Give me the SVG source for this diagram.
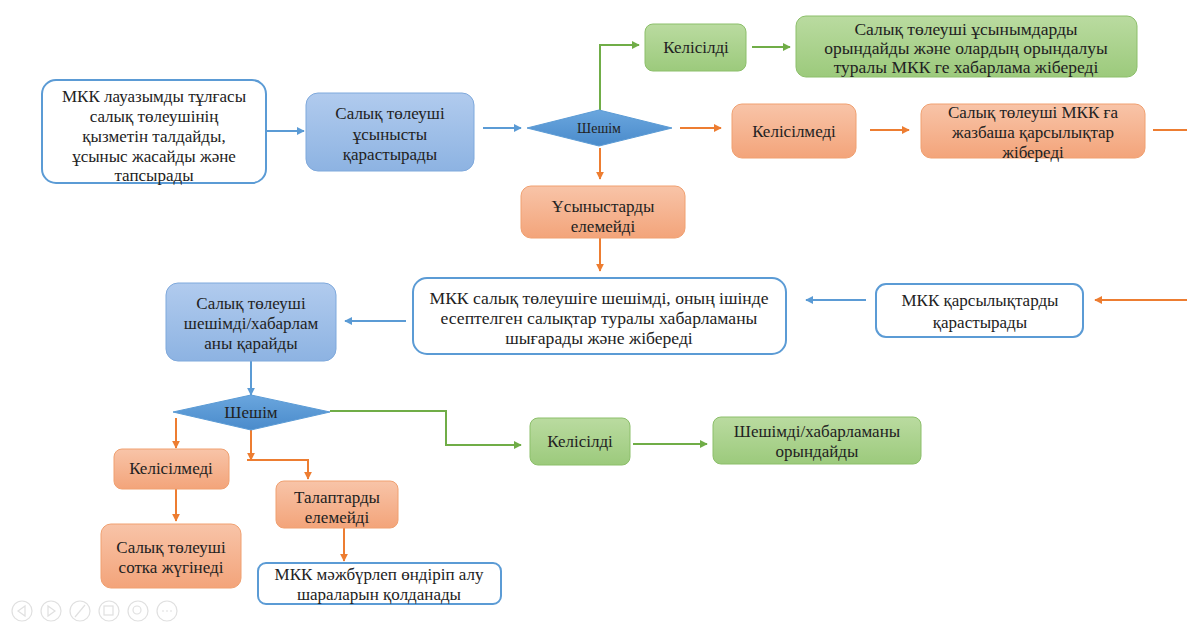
<svg xmlns="http://www.w3.org/2000/svg" width="1187" height="624" viewBox="0 0 1187 624" font-family="Liberation Serif" font-size="17">
<defs>
<linearGradient id="gb" x1="0" y1="0" x2="0" y2="1"><stop offset="0" stop-color="#B1CBEE"/><stop offset="1" stop-color="#8DB3E2"/></linearGradient>
<linearGradient id="go" x1="0" y1="0" x2="0" y2="1"><stop offset="0" stop-color="#F8C4A8"/><stop offset="1" stop-color="#F3A47A"/></linearGradient>
<linearGradient id="gg" x1="0" y1="0" x2="0" y2="1"><stop offset="0" stop-color="#BADBA0"/><stop offset="1" stop-color="#9CCA7C"/></linearGradient>
<linearGradient id="gd" x1="0" y1="0" x2="0" y2="1"><stop offset="0" stop-color="#6AA6DE"/><stop offset="1" stop-color="#4A8BCB"/></linearGradient>
<marker id="ab" viewBox="0 0 10 10" refX="9" refY="5" markerWidth="4" markerHeight="4" orient="auto"><path d="M0,0L10,5L0,10z" fill="#5B9BD5"/></marker>
<marker id="ao" viewBox="0 0 10 10" refX="9" refY="5" markerWidth="4" markerHeight="4" orient="auto"><path d="M0,0L10,5L0,10z" fill="#ED7D31"/></marker>
<marker id="ag" viewBox="0 0 10 10" refX="9" refY="5" markerWidth="4" markerHeight="4" orient="auto"><path d="M0,0L10,5L0,10z" fill="#70AD47"/></marker>
</defs>
<style>
text{fill:#222;text-anchor:middle}
.w{fill:#fff;stroke:#5B9BD5;stroke-width:2}
.b{fill:url(#gb);stroke:#7FA9DC;stroke-width:1}
.o{fill:url(#go);stroke:#F0A070;stroke-width:1}
.g{fill:url(#gg);stroke:#8CBF6A;stroke-width:1}
.d{fill:url(#gd);stroke:#5B9BD5;stroke-width:1}
.cb{stroke:#5B9BD5;stroke-width:2;fill:none;marker-end:url(#ab)}
.co{stroke:#ED7D31;stroke-width:2;fill:none;marker-end:url(#ao)}
.cg{stroke:#70AD47;stroke-width:2;fill:none;marker-end:url(#ag)}
.ico{fill:none;stroke:#E0E0E0;stroke-width:1.2}
</style>
<rect width="1187" height="624" fill="#fff"/>

<g id="connectors">
<line class="cb" x1="266" y1="131" x2="304" y2="131"/>
<line class="cb" x1="483" y1="128" x2="521" y2="128"/>
<path class="cg" d="M600,110 V45 H639"/>
<line class="cg" x1="752" y1="47" x2="790" y2="47"/>
<line class="co" x1="680" y1="128" x2="721" y2="128"/>
<line class="co" x1="870" y1="130" x2="909" y2="130"/>
<line stroke="#ED7D31" stroke-width="2" x1="1153" y1="130" x2="1187" y2="130"/>
<line class="co" x1="600" y1="148" x2="600" y2="179"/>
<line class="co" x1="600" y1="238" x2="600" y2="271"/>
<line class="co" x1="1187" y1="300" x2="1095" y2="300"/>
<line class="cb" x1="866" y1="300" x2="806" y2="300"/>
<line class="cb" x1="406" y1="321" x2="345" y2="321"/>
<line class="cb" x1="251" y1="361" x2="251" y2="395"/>
<path class="cg" d="M330,411 H446 V445 H521"/>
<line class="cg" x1="633" y1="444" x2="707" y2="444"/>
<line class="co" x1="176" y1="418" x2="176" y2="448"/>
<line class="co" x1="176" y1="489" x2="176" y2="521"/>
<line class="co" x1="251" y1="430" x2="251" y2="460"/>
<path class="co" d="M247,460 H308 V479"/>
<line class="co" x1="344" y1="528" x2="344" y2="561"/>
</g>

<g id="n1"><rect class="w" x="42" y="80" width="224" height="103" rx="14"/>
<text x="154" y="102">МКК лауазымды тұлғасы</text><text x="154" y="122">салық төлеушінің</text><text x="154" y="142">қызметін талдайды,</text><text x="154" y="162">ұсыныс жасайды және</text><text x="154" y="181">тапсырады</text></g>

<g id="n2"><rect class="b" x="306" y="93" width="168" height="78" rx="12"/>
<text x="390" y="119">Салық төлеуші</text><text x="390" y="140">ұсынысты</text><text x="390" y="160">қарастырады</text></g>

<g id="d1"><polygon class="d" points="527,128 599,110 672,128 599,146"/>
<text x="599" y="133" font-size="14">Шешім</text></g>

<g id="n3"><rect class="g" x="645" y="24" width="101" height="47" rx="8"/>
<text x="696" y="53">Келісілді</text></g>

<g id="n4" font-size="17.5"><rect class="g" x="796" y="16" width="341" height="61" rx="10"/>
<text x="966" y="35">Салық төлеуші ұсынымдарды</text><text x="966" y="54">орындайды және олардың орындалуы</text><text x="966" y="73">туралы МКК ге хабарлама жібереді</text></g>

<g id="n5"><rect class="o" x="732" y="104" width="124" height="54" rx="10"/>
<text x="794" y="137">Келісілмеді</text></g>

<g id="n6"><rect class="o" x="921" y="104" width="224" height="54" rx="10"/>
<text x="1033" y="118">Салық төлеуші МКК ға</text><text x="1033" y="138">жазбаша қарсылықтар</text><text x="1033" y="158">жібереді</text></g>

<g id="n7"><rect class="o" x="521" y="186" width="164" height="52" rx="10"/>
<text x="603" y="212">Ұсыныстарды</text><text x="603" y="232">елемейді</text></g>

<g id="n8" font-size="17.6"><rect class="w" x="413" y="278" width="373" height="76" rx="14"/>
<text x="599" y="304">МКК салық төлеушіге шешімді, оның ішінде</text><text x="599" y="324">есептелген салықтар туралы хабарламаны</text><text x="599" y="344">шығарады және жібереді</text></g>

<g id="n9"><rect class="w" x="876" y="284" width="207" height="53" rx="10"/>
<text x="980" y="306">МКК қарсылықтарды</text><text x="980" y="328">қарастырады</text></g>

<g id="n10"><rect class="b" x="166" y="283" width="170" height="78" rx="12"/>
<text x="251" y="309">Салық төлеуші</text><text x="251" y="329">шешімді/хабарлам</text><text x="251" y="349">аны қарайды</text></g>

<g id="d2"><polygon class="d" points="173,412 251,395 330,412 251,430"/>
<text x="251" y="418">Шешім</text></g>

<g id="n11"><rect class="g" x="530" y="418" width="100" height="47" rx="8"/>
<text x="580" y="447">Келісілді</text></g>

<g id="n12"><rect class="g" x="713" y="417" width="208" height="47" rx="8"/>
<text x="817" y="437">Шешімді/хабарламаны</text><text x="817" y="457">орындайды</text></g>

<g id="n13"><rect class="o" x="114" y="449" width="115" height="40" rx="8"/>
<text x="171" y="474">Келісілмеді</text></g>

<g id="n14"><rect class="o" x="101" y="524" width="140" height="64" rx="10"/>
<text x="171" y="553">Салық төлеуші</text><text x="171" y="573">сотка жүгінеді</text></g>

<g id="n15"><rect class="o" x="276" y="481" width="122" height="47" rx="8"/>
<text x="337" y="503">Талаптарды</text><text x="337" y="523">елемейді</text></g>

<g id="n16"><rect class="w" x="258" y="563" width="243" height="41" rx="8"/>
<text x="379" y="580">МКК мәжбүрлеп өндіріп алу</text><text x="379" y="600">шараларын қолданады</text></g>

<g id="toolbar">
<circle class="ico" cx="22" cy="611" r="10"/><path class="ico" d="M25,606 L18,611 L25,616z"/>
<circle class="ico" cx="51" cy="611" r="10"/><path class="ico" d="M48,606 L55,611 L48,616z"/>
<circle class="ico" cx="80" cy="611" r="10"/><path class="ico" d="M75,617 L85,605"/>
<circle class="ico" cx="109" cy="611" r="10"/><rect class="ico" x="104" y="606" width="9" height="9"/>
<circle class="ico" cx="138" cy="611" r="10"/><circle class="ico" cx="137" cy="610" r="4"/>
<circle class="ico" cx="167" cy="611" r="10"/><path class="ico" d="M162,611h2M166,611h2M170,611h2"/>
</g>
</svg>
